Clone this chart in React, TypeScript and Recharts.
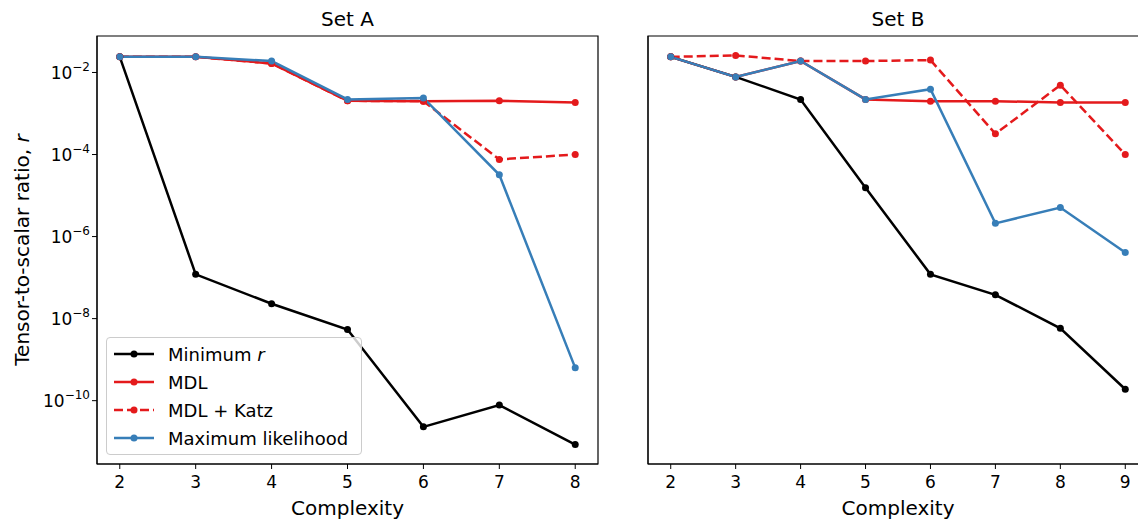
import { LineChart, Line, XAxis, YAxis, Label, Legend, ReferenceArea } from 'recharts'

const FONT = "'DejaVu Sans', sans-serif"

// Set A
const X_A = [2, 3, 4, 5, 6, 7, 8]
const A_MIN_R = [0.024, 1.2e-7, 2.3e-8, 5.4e-9, 2.3e-11, 7.8e-11, 8.5e-12]
const A_MDL = [0.024, 0.024, 0.0166, 0.00204, 0.002, 0.00204, 0.00185]
const A_MDL_KATZ = [0.024, 0.024, 0.0166, 0.00204, 0.002, 7.6e-5, 1.0e-4]
const A_ML = [0.024, 0.024, 0.019, 0.0022, 0.0024, 3.2e-5, 6.3e-10]

// Set B
const X_B = [2, 3, 4, 5, 6, 7, 8, 9]
const B_MIN_R = [0.024, 0.0078, 0.0022, 1.55e-5, 1.2e-7, 3.8e-8, 5.8e-9, 1.9e-10]
const B_MDL = [0.024, 0.0078, 0.019, 0.0022, 0.002, 0.002, 0.00185, 0.00185]
const B_MDL_KATZ = [0.024, 0.026, 0.019, 0.019, 0.02, 3.2e-4, 0.0049, 1.0e-4]
const B_ML = [0.024, 0.0078, 0.019, 0.0022, 0.0039, 2.1e-6, 5.1e-6, 4.1e-7]

const Y_TICKS = [1e-2, 1e-4, 1e-6, 1e-8, 1e-10]
const Y_DOMAIN = [Math.pow(10, -11.544), Math.pow(10, -1.111)]

const SERIES = [
  { key: 'minR', label: 'Minimum ', italic: 'r', color: '#000000', dash: undefined },
  { key: 'mdl', label: 'MDL', italic: '', color: '#e41a1c', dash: undefined },
  { key: 'katz', label: 'MDL + Katz', italic: '', color: '#e41a1c', dash: '9 4' },
  { key: 'ml', label: 'Maximum likelihood', italic: '', color: '#377eb8', dash: undefined },
]

const rowsA = X_A.map((c, i) => ({ c, minR: A_MIN_R[i], mdl: A_MDL[i], katz: A_MDL_KATZ[i], ml: A_ML[i] }))
const rowsB = X_B.map((c, i) => ({ c, minR: B_MIN_R[i], mdl: B_MDL[i], katz: B_MDL_KATZ[i], ml: B_ML[i] }))

function PowTick(props: any) {
  const { x, y, payload } = props
  const p = Math.round(Math.log10(payload.value))
  return (
    <text x={x} y={y} dy={6.5} textAnchor="end" fontSize={17} fill="#000" fontFamily={FONT}>
      10<tspan dy={-8} fontSize={12}>{`\u2212${-p}`}</tspan>
    </text>
  )
}

function YTitle(props: any) {
  const vb = props.viewBox || { x: 0, y: 36, width: 97, height: 428 }
  const x = vb.x + 29
  const y = vb.y + vb.height / 2
  return (
    <text x={x} y={y} transform={`rotate(-90 ${x} ${y})`} textAnchor="middle" fontSize={20} fill="#000" fontFamily={FONT}>
      Tensor-to-scalar ratio, <tspan fontStyle="italic">r</tspan>
    </text>
  )
}

function LegendBox() {
  return (
    <div
      style={{
        width: 256,
        boxSizing: 'border-box',
        border: '1px solid #cccccc',
        borderRadius: 4,
        background: 'rgba(255,255,255,0.8)',
        padding: '2px 0 2px 7px',
        fontFamily: FONT,
        fontSize: 18,
        color: '#000',
      }}
    >
      {SERIES.map(s => (
        <div key={s.key} style={{ display: 'flex', alignItems: 'center', height: 28 }}>
          <svg width={40} height={10} style={{ marginRight: 14, flex: 'none' }}>
            <line x1={0} y1={5} x2={40} y2={5} stroke={s.color} strokeWidth={2.5} strokeDasharray={s.dash} />
            <circle cx={20} cy={5} r={3.5} fill={s.color} />
          </svg>
          <span style={{ whiteSpace: 'nowrap' }}>
            {s.label}
            {s.italic && <i>{s.italic}</i>}
          </span>
        </div>
      ))}
    </div>
  )
}

function Panel(props: {
  rows: any[]
  domainX: number[]
  ticksX: number[]
  width: number
  yAxisWidth: number
  marginRight: number
  first: boolean
}) {
  const { rows, domainX, ticksX, width, yAxisWidth, marginRight, first } = props
  return (
    <LineChart width={width} height={519} data={rows} margin={{ top: 36, right: marginRight, bottom: 0, left: 0 }}>
      <XAxis
        dataKey="c"
        type="number"
        domain={domainX}
        ticks={ticksX}
        interval={0}
        allowDataOverflow
        height={55}
        tickSize={5}
        tickMargin={7}
        stroke="#000"
        tick={{ fill: '#000', fontSize: 17, fontFamily: FONT }}
      >
        <Label value="Complexity" position="insideBottom" offset={4} fontSize={20} fill="#000" fontFamily={FONT} />
      </XAxis>
      <YAxis
        scale="log"
        type="number"
        domain={Y_DOMAIN}
        ticks={Y_TICKS}
        interval={0}
        allowDataOverflow
        width={yAxisWidth}
        tickSize={5}
        tickMargin={2}
        stroke="#000"
        tick={first ? <PowTick /> : false}
      >
        {first && <Label content={<YTitle />} />}
      </YAxis>
      {/* frame around the plot area, like matplotlib's spines */}
      <ReferenceArea
        x1={domainX[0]}
        x2={domainX[1]}
        y1={Y_DOMAIN[0]}
        y2={Y_DOMAIN[1]}
        fill="none"
        fillOpacity={0}
        stroke="#000"
        strokeWidth={1.2}
        ifOverflow="visible"
      />
      {first && (
        <Legend
          layout="vertical"
          align="center"
          verticalAlign="middle"
          content={<LegendBox />}
          wrapperStyle={{ left: 106, top: 337, width: 256 }}
        />
      )}
      {SERIES.map(s => (
        <Line
          key={s.key}
          dataKey={s.key}
          stroke={s.color}
          strokeWidth={2.5}
          strokeDasharray={s.dash}
          dot={{ r: 3.5, fill: s.color, stroke: 'none' }}
          activeDot={false}
          isAnimationActive={false}
        />
      ))}
    </LineChart>
  )
}

const titleStyle = {
  position: 'absolute' as const,
  top: 9,
  height: 20,
  lineHeight: '20px',
  fontSize: 20,
  fontFamily: FONT,
  color: '#000',
  textAlign: 'center' as const,
}

export default function App() {
  return (
    <div style={{ position: 'absolute', left: 0, top: 0, width: 1138, height: 519, overflow: 'hidden', background: '#fff' }}>
      <div style={{ ...titleStyle, left: 97, width: 501 }}>Set A</div>
      <div style={{ ...titleStyle, left: 648, width: 500 }}>Set B</div>
      <div style={{ position: 'absolute', left: 0, top: 0 }}>
        <Panel rows={rowsA} domainX={[1.7, 8.3]} ticksX={X_A} width={610} yAxisWidth={97} marginRight={12} first />
      </div>
      <div style={{ position: 'absolute', left: 610, top: 0 }}>
        <Panel rows={rowsB} domainX={[1.65, 9.35]} ticksX={X_B} width={545} yAxisWidth={38} marginRight={7} first={false} />
      </div>
    </div>
  )
}
